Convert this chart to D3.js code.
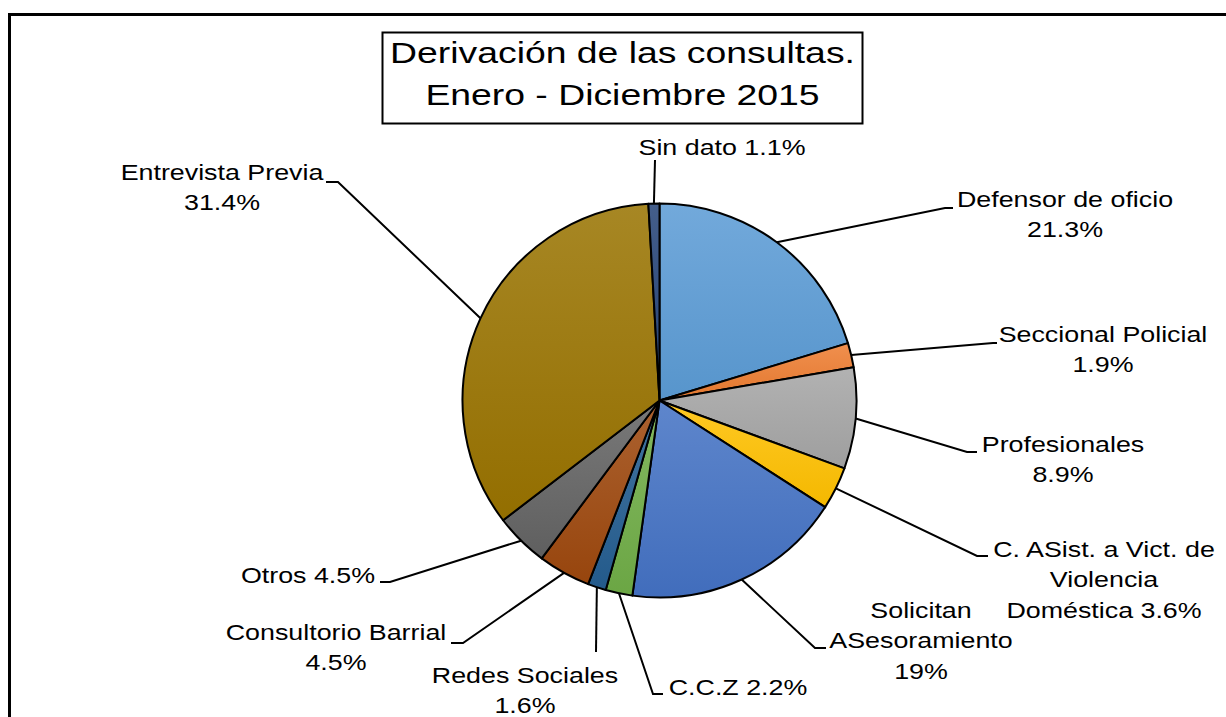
<!DOCTYPE html>
<html>
<head>
<meta charset="utf-8">
<script src="https://cdn.jsdelivr.net/npm/d3@7"></script>
<style>
  body { margin: 0; background: #fff; }
  text { font-family: "Liberation Sans", Arial, sans-serif; fill: #000; }
</style>
</head>
<body>
<div id="chart"></div>
<script>
// slice data, clockwise from 12 o'clock
const categories = ['Defensor de oficio', 'Seccional Policial', 'Profesionales',
  'C. ASist. a Vict. de\nViolencia\nDoméstica', 'Solicitan\nASesoramiento', 'C.C.Z',
  'Redes Sociales', 'Consultorio Barrial', 'Otros', 'Entrevista Previa', 'Sin dato'];
// share of the circle each slice takes in the picture
const sliceShares = [20.3, 2.0, 8.3, 3.5, 18.1, 2.2, 1.5, 4.3, 4.4, 34.5, 0.9];
// percentages printed in the labels
const pctLabels = ['21.3%', '1.9%', '8.9%', '3.6%', '19%', '2.2%', '1.6%', '4.5%', '4.5%', '31.4%', '1.1%'];
const baseColors = ['#5B9BD5', '#ED7D31', '#A5A5A5', '#FFC000', '#4472C4', '#70AD47',
  '#255E91', '#9E480E', '#636363', '#997300', '#264478'];
const titleLines = ['Derivación de las consultas.', 'Enero - Diciembre 2015'];

const w = 1226;
const h = 717;
const cx = 659.5;
const cy = 400.5;
const radius = 197;
const stretch = 1.22;
const lineH = 30.5;

// label layout: elbow of leader, end of tail, text centre, first baseline, pct on own line
const labelLayout = [
  { ex: 945, ey: 208, tx: 953, lx: 1065, ly: 207, br: true },
  { ex: 993, ey: 343, tx: 997, lx: 1103, ly: 342, br: true },
  { ex: 967, ey: 452, tx: 977, lx: 1063, ly: 452, br: true },
  { ex: 977, ey: 556, tx: 988, lx: 1104, ly: 557, br: false },
  { ex: 815, ey: 648, tx: 826, lx: 921, ly: 618, br: true },
  { ex: 653, ey: 694, tx: 663, lx: 738, ly: 695, br: false },
  { ex: 596, ey: 652, tx: 596, lx: 525, ly: 683, br: true },
  { ex: 463, ey: 643, tx: 451, lx: 336, ly: 640, br: true },
  { ex: 390, ey: 582, tx: 380, lx: 308, ly: 583, br: false },
  { ex: 338, ey: 182, tx: 326, lx: 222, ly: 180, br: true },
  { ex: 655, ey: 160, tx: 655, lx: 722, ly: 155, br: false }
];

const svg = d3.select('#chart')
  .append('svg')
  .attr('width', w)
  .attr('height', h);

// outer frame (runs off the right and bottom edge)
svg.append('rect')
  .attr('x', 9.5)
  .attr('y', 14.5)
  .attr('width', w + 20)
  .attr('height', h + 20)
  .attr('fill', 'none')
  .attr('stroke', '#000')
  .attr('stroke-width', 3);

const defs = svg.append('defs');
baseColors.forEach(function(c, i) {
  const g = defs.append('linearGradient')
    .attr('id', 'grad' + i)
    .attr('x1', 0).attr('y1', 0)
    .attr('x2', 0).attr('y2', 1);
  g.append('stop').attr('offset', '0%').attr('stop-color', d3.interpolateRgb(c, '#fff')(0.14));
  g.append('stop').attr('offset', '100%').attr('stop-color', d3.color(c).darker(0.12));
});

const pie = d3.pie().sort(null).value(d => d);
const arcs = pie(sliceShares);
const arc = d3.arc().innerRadius(0).outerRadius(radius);
const edge = d3.arc().innerRadius(radius).outerRadius(radius);

const pieG = svg.append('g')
  .attr('transform', 'translate(' + cx + ',' + cy + ')');

pieG.selectAll('path')
  .data(arcs)
  .enter()
  .append('path')
  .attr('d', arc)
  .attr('fill', (d, i) => 'url(#grad' + i + ')')
  .attr('stroke', '#000')
  .attr('stroke-width', 2)
  .attr('stroke-linejoin', 'round');

// leader lines
svg.append('g')
  .selectAll('polyline')
  .data(arcs)
  .enter()
  .append('polyline')
  .attr('points', function(d, i) {
    const p = edge.centroid(d);
    const l = labelLayout[i];
    return [[cx + p[0], cy + p[1]], [l.ex, l.ey], [l.tx, l.ey]].join(' ');
  })
  .attr('fill', 'none')
  .attr('stroke', '#000')
  .attr('stroke-width', 2);

// labels
categories.forEach(function(name, i) {
  const l = labelLayout[i];
  let lines = name.split('\n');
  if (l.br) lines.push(pctLabels[i]);
  else lines[lines.length - 1] += ' ' + pctLabels[i];
  const g = svg.append('g')
    .attr('transform', 'translate(' + l.lx + ',' + l.ly + ') scale(' + stretch + ',1)');
  lines.forEach(function(t, k) {
    g.append('text')
      .attr('x', 0)
      .attr('y', k * lineH)
      .attr('text-anchor', 'middle')
      .style('font-size', '22px')
      .text(t);
  });
});

// title box
svg.append('rect')
  .attr('x', 382.5)
  .attr('y', 32.5)
  .attr('width', 480)
  .attr('height', 91)
  .attr('fill', '#fff')
  .attr('stroke', '#000')
  .attr('stroke-width', 2);

const titleG = svg.append('g')
  .attr('transform', 'translate(622.5,63) scale(1.245,1)');
titleLines.forEach(function(t, k) {
  titleG.append('text')
    .attr('x', 0)
    .attr('y', k * 42)
    .attr('text-anchor', 'middle')
    .style('font-size', '30px')
    .text(t);
});
</script>
</body>
</html>
